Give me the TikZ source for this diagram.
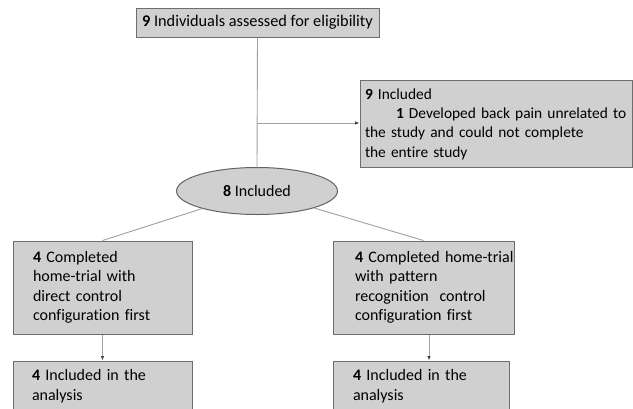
\documentclass[tikz,border=0pt]{standalone}
\usepackage{fontspec}
\setmainfont{Carlito}[Ligatures={NoCommon,NoRequired,NoContextual}]
\usetikzlibrary{arrows.meta,shapes.geometric}
\definecolor{boxfill}{HTML}{D0D0D0}
\definecolor{boxline}{HTML}{6E6E6E}
\definecolor{connline}{HTML}{A0A0A0}
\begin{document}
\begin{tikzpicture}[x=1pt,y=-1pt,
  every node/.style={font=\fontsize{16}{19.5}\selectfont},
  box/.style={draw=boxline, line width=1pt, fill=boxfill, rectangle, inner xsep=0pt, inner ysep=0pt, align=left},
  oval/.style={ellipse, draw=boxline!90!black, line width=1pt, fill=boxfill, inner sep=0pt},
  conn/.style={draw=connline, line width=0.9pt},
  arr/.style={conn, -{Latex[length=4.5pt,width=3.5pt,color=black!75]}}]
\useasboundingbox (0,0) rectangle (633,408);
\clip (0,0) rectangle (633,408);

\node[box, align=center, minimum width=243pt, minimum height=29pt, font=\fontsize{16.3}{19.5}\selectfont] (elig) at (257.5,22.5)
  {\textbf{9} Individuals assessed for eligibility};

\node[box, minimum width=272pt, minimum height=87pt, text width=272pt, font=\fontsize{15.4}{19.3}\selectfont] (incl) at (496,124)
  {\hspace*{5pt}\textbf{9} Included\\
   \hspace*{36pt}\mbox{\textbf{1} Developed back pain unrelated to}\\
   \hspace*{5pt}\mbox{the study and could not complete}\\
   \hspace*{5pt}the entire study};

\node[oval, minimum width=161pt, minimum height=47pt] (eight) at (257,191) {\textbf{8} Included};

\node[box, minimum width=179pt, minimum height=93pt, text width=179pt] (dc) at (102.5,287.5)
  {\hspace*{20pt}\textbf{4} Completed\\
   \hspace*{20pt}home-trial with\\
   \hspace*{20pt}direct control\\
   \hspace*{20pt}\mbox{configuration first}};

\node[box, minimum width=181pt, minimum height=93pt, text width=181pt] (pr) at (423.5,287.5)
  {\hspace*{22pt}\mbox{\textbf{4} Completed home-trial}\\
   \hspace*{22pt}with pattern\\
   \hspace*{22pt}\mbox{recognition\ \ control}\\
   \hspace*{22pt}\mbox{configuration first}};

\node[box, minimum width=179pt, minimum height=50pt, text width=179pt] (ldone) at (102.5,386)
  {\hspace*{19pt}\textbf{4} Included in the\\
   \hspace*{19pt}analysis};

\node[box, minimum width=176pt, minimum height=50pt, text width=176pt] (rdone) at (421,386)
  {\hspace*{20pt}\textbf{4} Included in the\\
   \hspace*{20pt}analysis};

\draw[conn] (elig.south) -- (eight.north);
\coordinate (br) at (257,123);
\draw[arr] (br) -- (br -| incl.west);
\draw[conn] (eight) -- (dc.north);
\draw[conn] (eight) -- (pr.north);
\draw[arr] (dc.south) -- (ldone.north);
\coordinate (rv) at (429,0);
\draw[arr] (pr.south -| rv) -- (rdone.north -| rv);
\end{tikzpicture}
\end{document}
